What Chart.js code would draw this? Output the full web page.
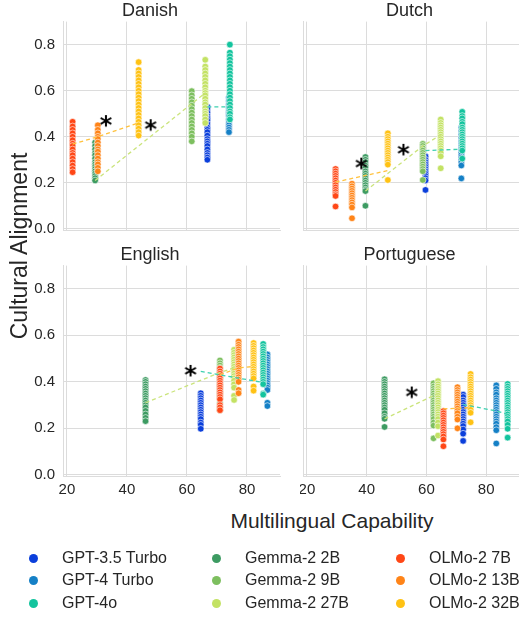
<!DOCTYPE html>
<html>
<head>
<meta charset="utf-8">
<script src="https://cdn.jsdelivr.net/npm/chart.js@4.4.1/dist/chart.umd.min.js"></script>
<style>
  body { margin: 0; background: #fff; font-family: "Liberation Sans", Arial, sans-serif; color: #262626; }
  #wrap { position: relative; width: 519px; height: 621px; overflow: hidden; }
  canvas { position: absolute; }
  .lbl { position: absolute; white-space: nowrap; font-size: 21px; color: #262626; }
  .leg { position: absolute; font-size: 16px; color: #262626; white-space: nowrap; line-height: 18px; }
  .dot { position: absolute; width: 9px; height: 9px; border-radius: 50%; }
</style>
</head>
<body>
<div id="wrap">
  <canvas id="c0" width="262" height="240" style="left:20px;top:0px"></canvas>
  <canvas id="c1" width="219" height="240" style="left:300px;top:0px"></canvas>
  <canvas id="c2" width="262" height="256" style="left:20px;top:244px"></canvas>
  <canvas id="c3" width="219" height="256" style="left:300px;top:244px"></canvas>
  <div class="lbl" id="ylab" style="left:19px;top:246px;font-size:23px;transform:translate(-50%,-50%) rotate(-90deg)">Cultural Alignment</div>
  <div class="lbl" id="xlab" style="left:332px;top:521px;transform:translate(-50%,-50%)">Multilingual Capability</div>
  <div id="legend"></div>
</div>
<script>
// models, legend order
const models = ["GPT-3.5 Turbo", "GPT-4 Turbo", "GPT-4o",
                "Gemma-2 2B", "Gemma-2 9B", "Gemma-2 27B",
                "OLMo-2 7B", "OLMo-2 13B", "OLMo-2 32B"];
const colors = ["#0b3fdb", "#1580c6", "#13c49e",
                "#3d9b62", "#7dbf5f", "#c3e264",
                "#ff4716", "#ff8418", "#ffc214"];
const languages = ["Danish", "Dutch", "English", "Portuguese"];
const xTicks = [20, 40, 60, 80];
const yTicks = [0, 0.2, 0.4, 0.6, 0.8];

// multilingual capability of each model (same order as models)
const capDanish = [66.8, 74.0, 74.3, 29.4, 61.6, 66.1, 21.9, 30.3, 43.9];
const capDutch = [59.7, 71.7, 72.0, 39.6, 58.8, 64.8, 29.6, 35.1, 47.1];
const capEnglish = [64.6, 86.8, 85.4, 46.2, 71.0, 75.7, 71.0, 77.2, 82.2];
const capPortuguese = [72.3, 83.4, 87.2, 46.0, 62.4, 63.9, 65.7, 70.4, 74.8];

// cultural alignment per item, one list per model
const alignDanish = [
  [0.53, 0.52, 0.505, 0.49, 0.48, 0.47, 0.455, 0.44, 0.43, 0.42, 0.405, 0.39, 0.38, 0.37, 0.36, 0.345, 0.33, 0.32, 0.31, 0.30],
  [0.57, 0.555, 0.54, 0.525, 0.51, 0.50, 0.49, 0.475, 0.46, 0.45, 0.44, 0.43, 0.42],
  [0.80, 0.765, 0.75, 0.735, 0.72, 0.705, 0.69, 0.675, 0.66, 0.645, 0.63, 0.615, 0.60, 0.585, 0.57, 0.555, 0.54, 0.525, 0.51, 0.50, 0.485, 0.475],
  [0.375, 0.36, 0.345, 0.33, 0.32, 0.305, 0.29, 0.28, 0.27, 0.26, 0.25, 0.24, 0.23, 0.22, 0.21],
  [0.598, 0.58, 0.565, 0.55, 0.535, 0.52, 0.505, 0.49, 0.475, 0.46, 0.445, 0.43, 0.415, 0.40, 0.38],
  [0.734, 0.705, 0.69, 0.675, 0.66, 0.645, 0.63, 0.615, 0.60, 0.59, 0.58, 0.565, 0.55, 0.54, 0.525, 0.51, 0.50, 0.49, 0.475, 0.46],
  [0.465, 0.445, 0.43, 0.415, 0.40, 0.385, 0.37, 0.36, 0.345, 0.33, 0.32, 0.305, 0.29, 0.275, 0.26, 0.246],
  [0.45, 0.43, 0.415, 0.40, 0.39, 0.375, 0.36, 0.345, 0.335, 0.32, 0.305, 0.29, 0.28, 0.265, 0.25],
  [0.724, 0.69, 0.675, 0.66, 0.645, 0.63, 0.615, 0.60, 0.585, 0.57, 0.555, 0.54, 0.525, 0.51, 0.495, 0.48, 0.465, 0.45, 0.435, 0.42, 0.405]
];
const alignDutch = [
  [0.315, 0.30, 0.29, 0.28, 0.27, 0.26, 0.25, 0.24, 0.23, 0.22, 0.21, 0.169],
  [0.44, 0.425, 0.41, 0.395, 0.38, 0.37, 0.36, 0.35, 0.34, 0.33, 0.32, 0.31, 0.30, 0.29, 0.275, 0.219],
  [0.508, 0.49, 0.48, 0.465, 0.455, 0.44, 0.43, 0.42, 0.41, 0.40, 0.39, 0.38, 0.37, 0.36, 0.35, 0.34, 0.305],
  [0.312, 0.30, 0.29, 0.275, 0.265, 0.25, 0.24, 0.23, 0.22, 0.21, 0.20, 0.19, 0.18, 0.17, 0.164, 0.10],
  [0.369, 0.36, 0.35, 0.34, 0.33, 0.32, 0.31, 0.30, 0.29, 0.28, 0.27, 0.26, 0.25, 0.212],
  [0.475, 0.46, 0.45, 0.44, 0.43, 0.42, 0.41, 0.40, 0.39, 0.38, 0.37, 0.36, 0.35, 0.34, 0.33, 0.315, 0.263],
  [0.26, 0.25, 0.24, 0.23, 0.22, 0.21, 0.20, 0.19, 0.18, 0.17, 0.16, 0.15, 0.143, 0.097],
  [0.196, 0.185, 0.175, 0.165, 0.155, 0.145, 0.135, 0.125, 0.115, 0.105, 0.093, 0.046],
  [0.415, 0.40, 0.39, 0.38, 0.37, 0.36, 0.35, 0.34, 0.33, 0.32, 0.31, 0.30, 0.29, 0.279, 0.212]
];
const alignEnglish = [
  [0.351, 0.34, 0.33, 0.32, 0.31, 0.30, 0.29, 0.28, 0.27, 0.26, 0.25, 0.24, 0.225, 0.215, 0.198],
  [0.518, 0.505, 0.495, 0.485, 0.475, 0.465, 0.455, 0.445, 0.435, 0.425, 0.415, 0.405, 0.395, 0.385, 0.375, 0.365, 0.31, 0.296],
  [0.563, 0.55, 0.54, 0.53, 0.52, 0.51, 0.50, 0.49, 0.48, 0.47, 0.46, 0.45, 0.44, 0.43, 0.42, 0.41, 0.40, 0.39, 0.35, 0.345],
  [0.408, 0.40, 0.39, 0.38, 0.37, 0.36, 0.35, 0.34, 0.33, 0.32, 0.31, 0.30, 0.29, 0.275, 0.26, 0.245, 0.231],
  [0.492, 0.48, 0.47, 0.46, 0.45, 0.44, 0.43, 0.42, 0.41, 0.40, 0.39, 0.38, 0.37, 0.36, 0.35, 0.34, 0.33, 0.31, 0.29, 0.278],
  [0.538, 0.525, 0.515, 0.505, 0.495, 0.485, 0.475, 0.465, 0.455, 0.445, 0.435, 0.425, 0.415, 0.405, 0.39, 0.375, 0.34, 0.322],
  [0.457, 0.445, 0.435, 0.425, 0.415, 0.405, 0.395, 0.385, 0.375, 0.365, 0.355, 0.345, 0.335, 0.325, 0.30, 0.29, 0.278],
  [0.573, 0.56, 0.55, 0.54, 0.53, 0.52, 0.51, 0.50, 0.49, 0.48, 0.47, 0.46, 0.45, 0.44, 0.43, 0.42, 0.41, 0.40, 0.365, 0.351],
  [0.567, 0.555, 0.545, 0.535, 0.525, 0.515, 0.505, 0.495, 0.485, 0.475, 0.465, 0.455, 0.445, 0.435, 0.425, 0.415, 0.38, 0.362]
];
const alignPortuguese = [
  [0.345, 0.335, 0.32, 0.31, 0.30, 0.29, 0.28, 0.27, 0.26, 0.25, 0.24, 0.23, 0.22, 0.21, 0.195, 0.177, 0.146],
  [0.385, 0.37, 0.355, 0.345, 0.33, 0.32, 0.31, 0.30, 0.29, 0.28, 0.27, 0.26, 0.25, 0.24, 0.23, 0.22, 0.205, 0.192, 0.135],
  [0.391, 0.38, 0.37, 0.36, 0.35, 0.34, 0.33, 0.32, 0.31, 0.30, 0.29, 0.28, 0.27, 0.26, 0.25, 0.24, 0.23, 0.215, 0.198, 0.16],
  [0.411, 0.40, 0.39, 0.38, 0.37, 0.36, 0.35, 0.34, 0.33, 0.32, 0.31, 0.30, 0.29, 0.28, 0.265, 0.25, 0.241, 0.206],
  [0.394, 0.38, 0.37, 0.36, 0.35, 0.34, 0.33, 0.32, 0.31, 0.30, 0.29, 0.28, 0.27, 0.26, 0.25, 0.24, 0.225, 0.212, 0.157],
  [0.403, 0.39, 0.38, 0.37, 0.36, 0.35, 0.34, 0.33, 0.32, 0.31, 0.30, 0.29, 0.28, 0.27, 0.26, 0.25, 0.24, 0.225, 0.209, 0.169],
  [0.274, 0.265, 0.255, 0.245, 0.235, 0.225, 0.215, 0.205, 0.195, 0.185, 0.175, 0.165, 0.152, 0.123],
  [0.377, 0.365, 0.355, 0.345, 0.335, 0.325, 0.315, 0.305, 0.295, 0.285, 0.275, 0.265, 0.25, 0.238, 0.20],
  [0.434, 0.42, 0.41, 0.40, 0.39, 0.38, 0.37, 0.36, 0.35, 0.34, 0.33, 0.32, 0.31, 0.30, 0.29, 0.28, 0.267, 0.226]
];

// family trend lines [x, y]
const gptTrend = [
  [[66.8, 0.53], [74.3, 0.53]],
  [[59.7, 0.34], [71.7, 0.346]],
  [[64.6, 0.445], [85.4, 0.397]],
  [[72.3, 0.302], [83.4, 0.275], [87.2, 0.26]]
];
const gemmaTrend = [
  [[29.4, 0.21], [66.1, 0.59]],
  [[39.6, 0.164], [58.8, 0.36], [64.8, 0.408]],
  [[46.2, 0.31], [71.0, 0.44], [75.7, 0.46]],
  [[46.0, 0.241], [63.9, 0.35]]
];
const olmoTrend = [
  [[21.9, 0.368], [30.3, 0.40], [43.9, 0.46]],
  [[29.6, 0.203], [47.1, 0.253]],
  [[71.0, 0.43], [77.2, 0.46], [82.2, 0.466]],
  [[65.7, 0.284], [70.4, 0.286], [74.8, 0.289]]
];
const trendColors = ["#3dd0b0", "#cbe47c", "#ffc23e"];

// significance markers
const stars = [
  [[33.0, 0.468], [47.9, 0.45]],
  [[38.2, 0.283], [52.3, 0.343]],
  [[61.2, 0.447]],
  [[55.1, 0.354]]
];

const caps = [capDanish, capDutch, capEnglish, capPortuguese];
const aligns = [alignDanish, alignDutch, alignEnglish, alignPortuguese];

// asterisk glyph as a point image
const starImg = document.createElement("canvas");
starImg.width = 20; starImg.height = 20;
(function () {
  const g = starImg.getContext("2d");
  g.font = "bold 24px 'DejaVu Sans'";
  g.fillStyle = "#000";
  g.textAlign = "center";
  const m = g.measureText("*");
  const h = m.actualBoundingBoxAscent + m.actualBoundingBoxDescent;
  g.fillText("*", 10, 10 - h / 2 + m.actualBoundingBoxAscent);
})();

const tickFont = { family: "'Liberation Sans', Arial, sans-serif", size: 15 };
const gridColor = "#dcdcdc";

function makePanel(idx) {
  const left = idx % 2 === 0;
  const bottom = idx >= 2;
  const datasets = [];
  models.forEach((m, i) => {
    datasets.push({
      label: m,
      data: aligns[idx][i].map(v => ({ x: caps[idx][i], y: v })),
      backgroundColor: colors[i],
      borderColor: "#ffffff",
      borderWidth: 0.6,
      pointRadius: 3.3,
      order: 20 - i
    });
  });
  [gptTrend, gemmaTrend, olmoTrend].forEach((t, k) => {
    datasets.push({
      data: t[idx].map(p => ({ x: p[0], y: p[1] })),
      showLine: true,
      borderColor: trendColors[k],
      borderWidth: 1.3,
      borderDash: [4, 3],
      pointRadius: 0,
      order: 2
    });
  });
  datasets.push({
    data: stars[idx].map(p => ({ x: p[0], y: p[1] })),
    pointStyle: starImg,
    order: 1
  });

  new Chart(document.getElementById("c" + idx), {
    type: "scatter",
    data: { datasets: datasets },
    options: {
      responsive: false,
      animation: false,
      layout: { autoPadding: false, padding: { top: 0, right: left ? 2 : 0, bottom: 0, left: 0 } },
      plugins: {
        legend: { display: false },
        tooltip: { enabled: false },
        title: {
          display: true,
          text: languages[idx],
          color: "#262626",
          font: { family: "'Liberation Sans', Arial, sans-serif", size: 18, weight: "normal", lineHeight: 1.2 },
          padding: { top: 0, bottom: 0 }
        }
      },
      scales: {
        x: {
          type: "linear",
          min: 18.7,
          max: 91,
          afterBuildTicks: s => { s.ticks = xTicks.map(v => ({ value: v })); },
          afterFit: s => {
            s.height = bottom ? 24 : 10;
            s.paddingLeft = 0; s.paddingRight = 0; s.paddingTop = 0; s.paddingBottom = 0;
          },
          grid: { color: gridColor, drawTicks: false },
          border: { color: gridColor },
          ticks: { display: bottom, color: "#262626", font: tickFont, padding: 5, maxRotation: 0 }
        },
        y: {
          min: -0.005,
          max: 0.9,
          afterBuildTicks: s => { s.ticks = yTicks.map(v => ({ value: v })); },
          afterFit: s => {
            s.width = left ? 43 : 3;
            s.paddingLeft = 0; s.paddingRight = 0; s.paddingTop = 0; s.paddingBottom = 0;
          },
          grid: { color: gridColor, drawTicks: false },
          border: { color: gridColor },
          ticks: { display: left, color: "#262626", font: tickFont, padding: 8, callback: v => v.toFixed(1) }
        }
      }
    }
  });
}

for (let i = 0; i < 4; i++) makePanel(i);

// figure legend, three columns
const legend = document.getElementById("legend");
models.forEach((m, i) => {
  const col = Math.floor(i / 3), row = i % 3;
  const dx = [33, 216, 400][col], dy = [558, 580, 603][row];
  const d = document.createElement("div");
  d.className = "dot";
  d.style.left = (dx - 4.5) + "px";
  d.style.top = (dy - 4.5) + "px";
  d.style.background = colors[i];
  legend.appendChild(d);
  const t = document.createElement("div");
  t.className = "leg";
  t.textContent = m;
  t.style.left = (dx + 29) + "px";
  t.style.top = (dy - 9) + "px";
  legend.appendChild(t);
});
</script>
</body>
</html>
